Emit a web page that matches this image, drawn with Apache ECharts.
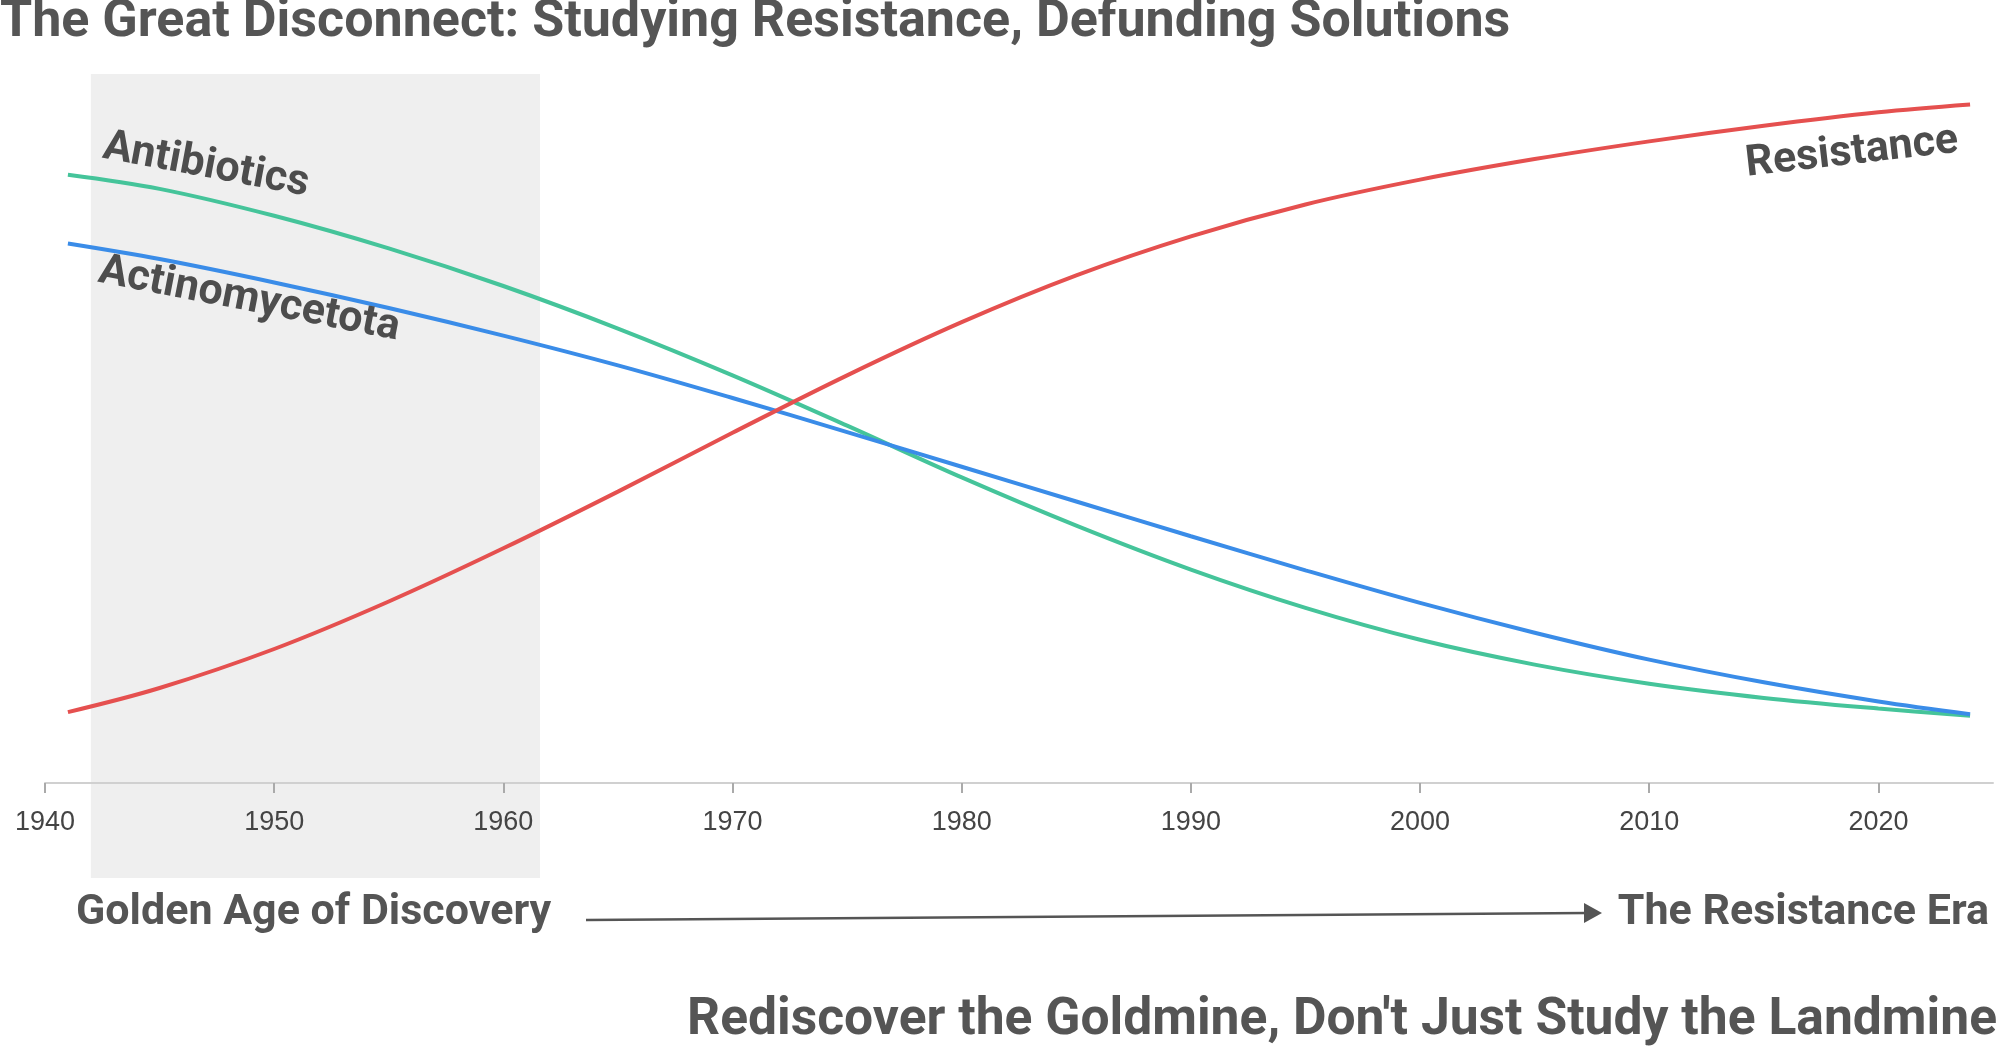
<!DOCTYPE html>
<html>
<head>
<meta charset="utf-8">
<script src="https://cdn.jsdelivr.net/npm/echarts@6/dist/echarts.min.js"></script>
<style>
html,body{margin:0;padding:0;background:#fff;}
#chart{width:1999px;height:1049px;}
</style>
</head>
<body>
<div id="chart"></div>
<script>
// ---- data ----
const years = [1941, 1945, 1950, 1955, 1960, 1965, 1970, 1975, 1980, 1985, 1990, 1995, 2000, 2005, 2010, 2015, 2020, 2024];
const antibiotics = [85.8, 83.8, 80.0, 75.4, 70.1, 64.1, 57.5, 50.4, 43.1, 36.3, 30.1, 24.7, 20.2, 16.7, 14.0, 12.0, 10.5, 9.5];
const actinomycetota = [76.1, 73.9, 70.6, 67.0, 63.1, 58.9, 54.3, 49.5, 44.6, 39.7, 34.8, 30.0, 25.4, 21.2, 17.4, 14.2, 11.5, 9.7];
const resistance = [10.0, 13.4, 18.9, 25.6, 33.1, 41.1, 49.4, 57.5, 65.0, 71.6, 77.1, 81.6, 85.1, 88.0, 90.5, 92.7, 94.6, 95.7];
const tickYears = [1940, 1950, 1960, 1970, 1980, 1990, 2000, 2010, 2020];
const axisRange = [1940, 2025];
const goldenAge = [1942, 1961.6];

const TITLE = 'The Great Disconnect: Studying Resistance, Defunding Solutions';
const SUBTITLE = "Rediscover the Goldmine, Don't Just Study the Landmine";

const pair = arr => years.map((y, i) => [y, arr[i]]);
const FONT = 'Roboto';
const DARK = '#555555';

const chart = echarts.init(document.getElementById('chart'), null, {renderer: 'canvas'});

const lineSeries = (name, arr, color) => ({
  name, type: 'line', xAxisIndex: 0, yAxisIndex: 0,
  data: pair(arr), smooth: 0.35, showSymbol: false, symbol: 'none',
  lineStyle: {color, width: 4}, z: 3, silent: true
});

chart.setOption({
  backgroundColor: '#ffffff',
  animation: false,
  title: [
    {text: TITLE, left: 0, top: -3, padding: 0,
     textStyle: {fontFamily: FONT, fontWeight: 'bold', fontSize: 52, color: DARK}},
    {text: SUBTITLE, right: 2, top: 995, padding: 0,
     textStyle: {fontFamily: FONT, fontWeight: 'bold', fontSize: 51.6, color: DARK}}
  ],
  grid: [
    {left: 45, right: 6, top: 74, bottom: 266},
    {left: 45, right: 6, top: 74, bottom: 171}
  ],
  xAxis: [
    {type: 'value', gridIndex: 0, min: axisRange[0], max: axisRange[1], interval: 10, z: 4,
     splitLine: {show: false},
     axisLine: {show: true, lineStyle: {color: '#d0d0d0', width: 2}},
     axisTick: {show: true, length: 10, customValues: tickYears, lineStyle: {color: '#aaaaaa', width: 2}},
     axisLabel: {show: true, margin: 26, customValues: tickYears, formatter: v => String(v),
       fontFamily: 'Liberation Sans', fontSize: 27, color: '#444444'}},
    {type: 'value', gridIndex: 1, min: axisRange[0], max: axisRange[1], show: false}
  ],
  yAxis: [
    {type: 'value', gridIndex: 0, min: 0, max: 100, show: false},
    {type: 'value', gridIndex: 1, min: 0, max: 100, show: false}
  ],
  series: [
    {name: 'shade', type: 'line', xAxisIndex: 1, yAxisIndex: 1, data: [], silent: true,
     markArea: {silent: true, itemStyle: {color: '#efefef'},
       data: [[{xAxis: goldenAge[0]}, {xAxis: goldenAge[1]}]]}},
    lineSeries('Antibiotics', antibiotics, '#45c49a'),
    lineSeries('Actinomycetota', actinomycetota, '#3a8ce8'),
    lineSeries('Resistance', resistance, '#e5504f')
  ],
  graphic: [
    {type: 'text', x: 206, y: 166, rotation: -10.5 * Math.PI / 180, z: 10,
     style: {text: 'Antibiotics', fontFamily: FONT, fontWeight: 'bold', fontSize: 43, fill: '#4d4d4d', align: 'center', verticalAlign: 'middle'}},
    {type: 'text', x: 249, y: 300, rotation: -11 * Math.PI / 180, z: 10,
     style: {text: 'Actinomycetota', fontFamily: FONT, fontWeight: 'bold', fontSize: 43, fill: '#4d4d4d', align: 'center', verticalAlign: 'middle'}},
    {type: 'text', x: 1852, y: 153, rotation: 6.5 * Math.PI / 180, z: 10,
     style: {text: 'Resistance', fontFamily: FONT, fontWeight: 'bold', fontSize: 43, fill: '#4d4d4d', align: 'center', verticalAlign: 'middle'}},
    {type: 'text', x: 76, y: 913, z: 10,
     style: {text: 'Golden Age of Discovery', fontFamily: FONT, fontWeight: 'bold', fontSize: 43, fill: DARK, align: 'left', verticalAlign: 'middle'}},
    {type: 'text', x: 1989, y: 913, z: 10,
     style: {text: 'The Resistance Era', fontFamily: FONT, fontWeight: 'bold', fontSize: 43, fill: DARK, align: 'right', verticalAlign: 'middle'}},
    {type: 'line', z: 10, shape: {x1: 586, y1: 920, x2: 1588, y2: 913},
     style: {stroke: DARK, lineWidth: 2.5}},
    {type: 'polygon', z: 10, shape: {points: [[1584, 903], [1602, 913], [1584, 923]]},
     style: {fill: DARK}}
  ]
});
</script>
</body>
</html>
